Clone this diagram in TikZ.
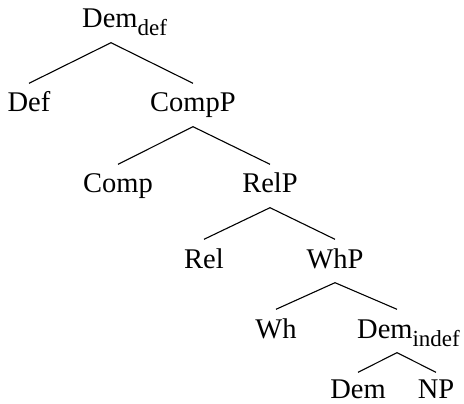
\documentclass[tikz,border=0pt]{standalone}
\usepackage{fontspec}
\setmainfont{Liberation Serif}
\newcommand{\subtx}[1]{\raisebox{-8pt}{\fontsize{23}{24}\selectfont #1}}
\begin{document}
\begin{tikzpicture}[x=1pt,y=-1pt,
  tn/.style={font=\fontsize{28.5}{30}\selectfont, text height=19pt, text depth=5pt,
             inner ysep=9.5pt, inner xsep=0pt, anchor=base},
  leaf/.style={tn, text height=22.5pt, text depth=0pt, inner ysep=3pt},
  br/.style={line width=1.1pt}]
\useasboundingbox (0,0) rectangle (464,404);
\node[tn, anchor=base west] (demdef) at (82,28) {Dem\subtx{def}};
\node[tn] (def) at (29,112) {Def};
\node[tn] (compp) at (193,112) {CompP};
\node[tn] (comp) at (118,193) {Comp};
\node[tn] (relp) at (270,193) {RelP};
\node[tn] (rel) at (204,268) {Rel};
\node[tn] (whp) at (335,268) {WhP};
\node[tn] (wh) at (276,338) {Wh};
\node[tn, anchor=base west] (demindef) at (357,338) {Dem\subtx{indef}};
\node[leaf] (dem) at (358,398) {Dem};
\node[leaf] (np) at (436,398) {NP};
\draw[br] (def.north) -- ([xshift=29pt]demdef.south west) -- (compp.north);
\draw[br] (comp.north) -- (compp.south) -- (relp.north);
\draw[br] (rel.north) -- (relp.south) -- (whp.north);
\draw[br] (wh.north) -- (whp.south) -- ([xshift=40pt]demindef.north west);
\draw[br] (dem.north) -- ([xshift=40pt]demindef.south west) -- (np.north);
\end{tikzpicture}
\end{document}
